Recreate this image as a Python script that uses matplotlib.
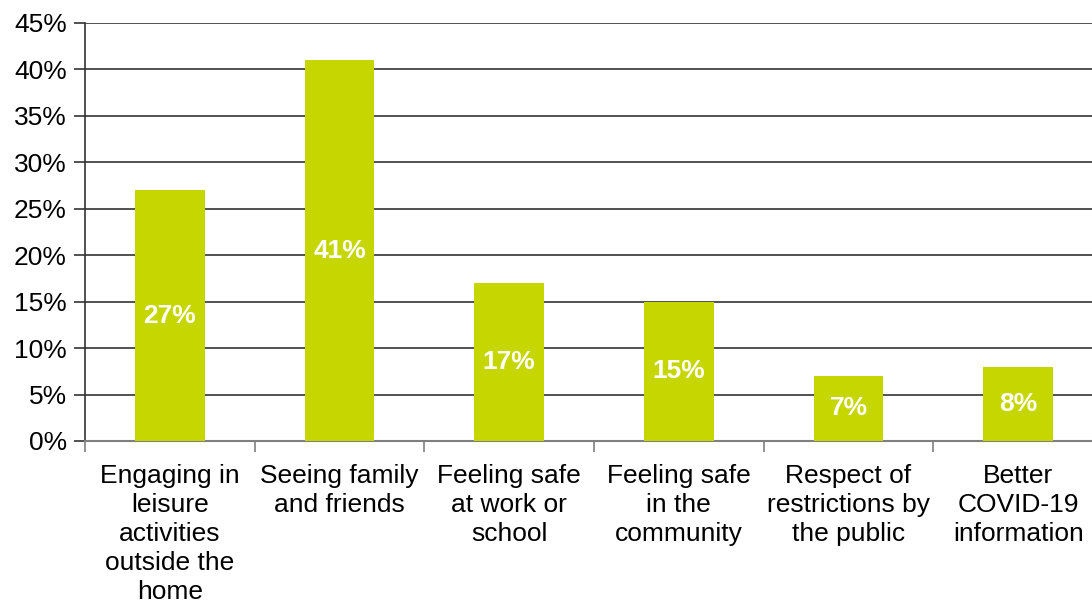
import matplotlib
matplotlib.use("Agg")
import matplotlib.pyplot as plt
from matplotlib.ticker import MultipleLocator, FuncFormatter

categories = [
    "Engaging in\nleisure\nactivities\noutside the\nhome",
    "Seeing family\nand friends",
    "Feeling safe\nat work or\nschool",
    "Feeling safe\nin the\ncommunity",
    "Respect of\nrestrictions by\nthe public",
    "Better\nCOVID-19\ninformation",
]
values = [27, 41, 17, 15, 7, 8]

plt.rcParams["font.family"] = ["Liberation Sans", "DejaVu Sans"]

W, H = 1092, 605
fig = plt.figure(figsize=(W / 100, H / 100), dpi=100)
left, right, top, bottom = 85, 1103, 23, 441
ax = fig.add_axes([left / W, 1 - bottom / H, (right - left) / W, (bottom - top) / H])

bar_color = "#C5D600"
x = list(range(len(values)))
bars = ax.bar(x, values, width=0.41, color=bar_color, zorder=3)

for xi, v in zip(x, values):
    ax.text(xi, v / 2, f"{v}%", ha="center", va="center", color="white",
            fontsize=19, fontweight="bold", zorder=4)

ax.set_xlim(-0.5, len(values) - 0.5)
ax.set_ylim(0, 45)
ax.yaxis.set_major_locator(MultipleLocator(5))
ax.yaxis.set_major_formatter(FuncFormatter(lambda v, p: f"{int(round(v))}%"))
ax.grid(axis="y", color="#333333", linewidth=1.2, zorder=1)
ax.set_axisbelow(True)

for s in ["top", "right"]:
    ax.spines[s].set_visible(False)
ax.spines["left"].set_color("#333333")
ax.spines["left"].set_linewidth(1.2)
ax.spines["bottom"].set_color("#7f7f7f")
ax.spines["bottom"].set_linewidth(1.5)

ax.tick_params(axis="y", length=8, width=1.2, color="#333333", labelsize=19, pad=5)
ax.set_xticks([i + 0.5 for i in range(-1, len(values))], minor=True)
ax.set_xticks(x)
ax.set_xticklabels(categories, fontsize=19, linespacing=1.27)
ax.tick_params(axis="x", which="major", length=0, pad=16.5)
ax.tick_params(axis="x", which="minor", length=8, width=1.2, color="#7f7f7f")

fig.savefig("out.png", dpi=100)
